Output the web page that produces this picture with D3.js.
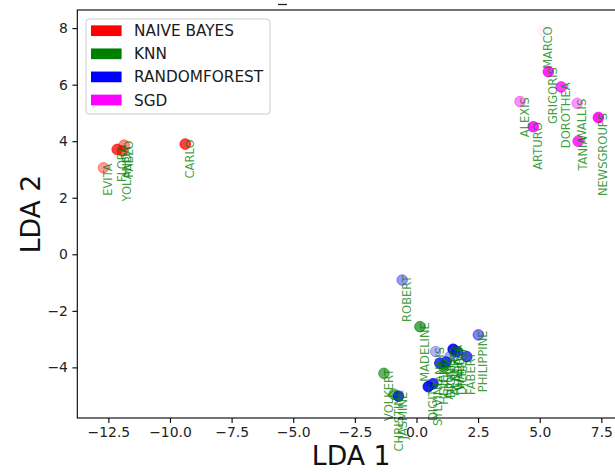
<!DOCTYPE html>
<html>
<head>
<meta charset="utf-8">
<script src="https://cdn.jsdelivr.net/npm/d3@7"></script>
<style>
  html, body { margin: 0; padding: 0; background: #fff; }
  svg { display: block; font-family: "DejaVu Sans", sans-serif; }
</style>
</head>
<body>
<svg id="chart" width="615" height="472"></svg>
<script>
// ---- data ----
const names = ["EVITA","FLORA","YOLANDA","PABLO","CARLO",
  "ALEXIS","ARTURO","GRIGORIS","MARCO","DOROTHEA","TANIA","WALLIS","NEWSGROUPS",
  "ROBERT","MADELINE","PHILIPPINE","VOLKERT","CHRISTINE","JASMINE",
  "DIGITS","SYLVINE","HELENA","JANNIS","ADULT","DIONIS","ALBERT","CADATA","WALDO","DILBERT","FABERT"];
const lda1 = [-12.70,-12.14,-11.94,-11.86,-9.38,
  4.20,4.74,5.35,5.13,5.87,6.56,6.52,7.38,
  -0.58,0.14,2.51,-1.32,-0.91,-0.73,
  0.48,0.67,0.95,0.78,1.12,1.20,1.36,1.49,1.56,1.66,2.04];
const lda2 = [3.06,3.71,3.66,3.86,3.90,
  5.40,4.51,6.46,7.90,5.92,4.00,5.34,4.84,
  -0.91,-2.56,-2.85,-4.21,-4.95,-5.02,
  -4.68,-4.58,-3.85,-3.44,-3.99,-3.81,-3.62,-3.36,-3.45,-3.44,-3.62];
const best = ["NAIVE BAYES","NAIVE BAYES","NAIVE BAYES","NAIVE BAYES","NAIVE BAYES",
  "SGD","SGD","SGD","SGD","SGD","SGD","SGD","SGD",
  "RANDOMFOREST","KNN","RANDOMFOREST","KNN","KNN","RANDOMFOREST",
  "RANDOMFOREST","RANDOMFOREST","RANDOMFOREST","RANDOMFOREST","KNN","RANDOMFOREST","RANDOMFOREST","RANDOMFOREST","KNN","RANDOMFOREST","RANDOMFOREST"];
const score = [0.40,0.75,0.60,0.45,0.75,
  0.45,0.85,0.85,0.05,0.75,0.80,0.40,0.90,
  0.40,0.65,0.50,0.60,0.55,0.80,
  0.90,0.80,0.75,0.30,0.60,0.70,0.35,0.90,0.60,0.70,0.70];
const classes = ["NAIVE BAYES","KNN","RANDOMFOREST","SGD"];
const classColors = ["#ff0000","#008000","#0000ff","#ff00ff"];
const xTicks = [-12.5,-10,-7.5,-5,-2.5,0,2.5,5,7.5];
const yTicks = [-4,-2,0,2,4,6,8];

// ---- layout ----
const svg = d3.select("#chart");
const L = 77.3, R = 625, T = 10, B = 418;
const x = d3.scaleLinear().domain([-13.76, 8.46]).range([L, R]);
const y = d3.scaleLinear().domain([-5.79, 8.64]).range([B, T]);
const color = d3.scaleOrdinal().domain(classes).range(classColors);
const alpha = d3.scaleLinear().domain([0, 1]).range([0, 1]);

const pts = names.map((n, i) => ({name: n, x: lda1[i], y: lda2[i], c: best[i], s: score[i]}));

// clipped remnant of a title above the figure
svg.append("line").attr("x1", 278).attr("x2", 287).attr("y1", 4.5).attr("y2", 4.5)
  .attr("stroke", "#222").attr("stroke-width", 1.3);

// points
const gp = svg.append("g");
gp.selectAll("circle").data(pts).enter().append("circle")
  .attr("cx", d => x(d.x)).attr("cy", d => y(d.y)).attr("r", 5.3)
  .attr("fill", d => color(d.c)).attr("fill-opacity", d => alpha(d.s))
  .attr("stroke", d => color(d.c)).attr("stroke-opacity", d => alpha(d.s)).attr("stroke-width", 1);

// labels
const gl = svg.append("g");
gl.selectAll("text").data(pts).enter().append("text")
  .attr("transform", d => `translate(${x(d.x) + 8.6},${y(d.y) - 4.5}) rotate(-90)`)
  .attr("text-anchor", "end")
  .attr("font-size", "11.5px")
  .attr("fill", "#008000").attr("fill-opacity", 0.75)
  .text(d => d.name);

// axes
const fmtX = d3.format(".1f");
const xAxis = d3.axisBottom(x).tickValues(xTicks).tickFormat(d => fmtX(d)).tickSizeOuter(0).tickSize(4.9).tickPadding(4.5);
const yAxis = d3.axisLeft(y).tickValues(yTicks).tickFormat(d3.format("d")).tickSizeOuter(0).tickSize(4.9).tickPadding(4.5);

const gx = svg.append("g").attr("transform", `translate(0,${B})`).call(xAxis);
const gy = svg.append("g").attr("transform", `translate(${L},0)`).call(yAxis);
[gx, gy].forEach(g => {
  g.select(".domain").remove();
  g.selectAll(".tick line").attr("stroke", "#000").attr("stroke-width", 1.1);
  g.selectAll(".tick text").attr("font-size", "13.9px").attr("fill", "#222").attr("font-family", "DejaVu Sans, sans-serif");
});

// spines
svg.append("rect").attr("x", L).attr("y", T).attr("width", R - L).attr("height", B - T)
  .attr("fill", "none").attr("stroke", "#000").attr("stroke-width", 1.1);

// axis labels
svg.append("text").attr("x", (L + R) / 2).attr("y", 465).attr("text-anchor", "middle")
  .attr("font-size", "26.7px").attr("fill", "#111").text("LDA 1");
svg.append("text").attr("transform", `translate(40,${(T + B) / 2}) rotate(-90)`).attr("text-anchor", "middle")
  .attr("font-size", "26.7px").attr("fill", "#111").text("LDA 2");

// legend
const lg = svg.append("g");
lg.append("rect").attr("x", 86).attr("y", 19).attr("width", 184).attr("height", 95).attr("rx", 3)
  .attr("fill", "#fff").attr("fill-opacity", 0.8).attr("stroke", "#cccccc").attr("stroke-width", 1);
const rows = lg.selectAll("g.row").data(classes).enter().append("g").attr("class", "row")
  .attr("transform", (d, i) => `translate(0,${30.7 + i * 23.1})`);
rows.append("rect").attr("x", 91).attr("y", -5.35).attr("width", 30.6).attr("height", 10.7)
  .attr("fill", d => color(d));
rows.append("text").attr("x", 134).attr("y", 0).attr("dy", "0.36em")
  .attr("font-size", "15.3px").attr("fill", "#1a1a1a").text(d => d);
</script>
</body>
</html>
